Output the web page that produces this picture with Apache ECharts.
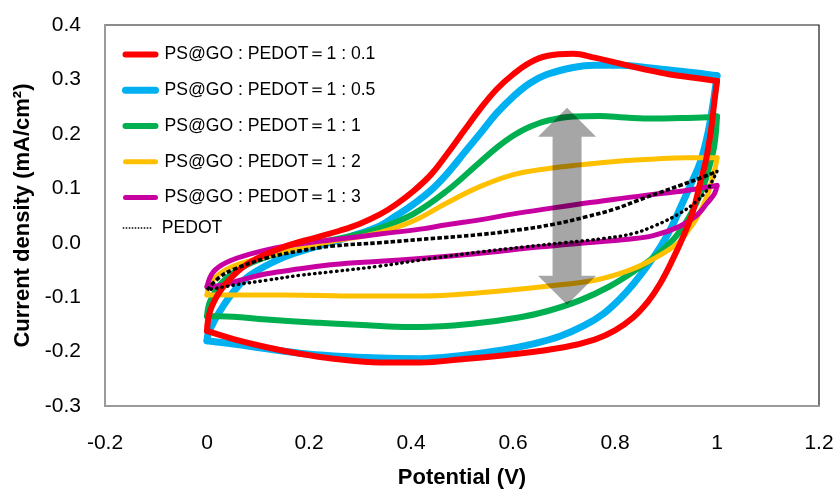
<!DOCTYPE html>
<html>
<head>
<meta charset="utf-8">
<script src="https://cdn.jsdelivr.net/npm/echarts@6/dist/echarts.min.js"></script>
<style>
html,body{margin:0;padding:0;background:#fff;}
#chart{width:837px;height:494px;}
</style>
</head>
<body>
<div id="chart"></div>
<script>
// ---- data (Potential V, Current density mA/cm2) ----
const SERIES_NAMES = [
  'PS@GO : PEDOT＝1 : 0.1',
  'PS@GO : PEDOT＝1 : 0.5',
  'PS@GO : PEDOT＝1 : 1',
  'PS@GO : PEDOT＝1 : 2',
  'PS@GO : PEDOT＝1 : 3',
  'PEDOT'
];
const X_TICKS = [-0.2, 0, 0.2, 0.4, 0.6, 0.8, 1, 1.2];
const Y_TICKS = [-0.3, -0.2, -0.1, 0.0, 0.1, 0.2, 0.3, 0.4];

// 1 : 0.1 (red)
const red_fwd = [[0,-0.162],[0.006,-0.126],[0.025,-0.090],[0.052,-0.060],[0.084,-0.036],[0.15,-0.008],[0.215,0.010],[0.26,0.022],[0.3,0.035],[0.339,0.052],[0.37,0.07],[0.405,0.095],[0.44,0.126],[0.47,0.162],[0.505,0.207],[0.535,0.245],[0.568,0.282],[0.601,0.31],[0.633,0.331],[0.666,0.343],[0.718,0.347],[0.76,0.34],[0.81,0.329],[0.86,0.318],[0.908,0.309],[0.955,0.303],[1.0,0.297]];
const red_rev = [[1.0,0.297],[0.995,0.26],[0.988,0.205],[0.978,0.15],[0.967,0.11],[0.953,0.058],[0.935,0.014],[0.912,-0.033],[0.888,-0.076],[0.865,-0.108],[0.835,-0.138],[0.8,-0.161],[0.76,-0.178],[0.7,-0.192],[0.6,-0.205],[0.5,-0.214],[0.418,-0.22],[0.339,-0.22],[0.248,-0.213],[0.182,-0.204],[0.117,-0.192],[0.052,-0.177],[0,-0.162]];
// 1 : 0.5 (blue)
const blue_fwd = [[0,-0.18],[0.003,-0.165],[0.012,-0.148],[0.025,-0.126],[0.052,-0.09],[0.084,-0.06],[0.15,-0.027],[0.215,-0.007],[0.28,0.011],[0.339,0.031],[0.37,0.049],[0.405,0.071],[0.44,0.097],[0.47,0.126],[0.505,0.166],[0.535,0.2],[0.568,0.238],[0.601,0.269],[0.633,0.293],[0.666,0.309],[0.718,0.322],[0.76,0.326],[0.81,0.326],[0.86,0.322],[0.91,0.317],[0.96,0.312],[1.0,0.307]];
const blue_rev = [[1.0,0.307],[0.993,0.26],[0.983,0.205],[0.968,0.15],[0.95,0.11],[0.93,0.068],[0.91,0.027],[0.89,-0.006],[0.864,-0.042],[0.836,-0.076],[0.81,-0.103],[0.778,-0.13],[0.74,-0.152],[0.692,-0.172],[0.64,-0.186],[0.58,-0.197],[0.5,-0.207],[0.418,-0.213],[0.339,-0.212],[0.248,-0.208],[0.182,-0.203],[0.117,-0.195],[0.052,-0.186],[0,-0.18]];
// 1 : 1 (green)
const green_fwd = [[0,-0.135],[0.006,-0.108],[0.025,-0.078],[0.052,-0.055],[0.084,-0.038],[0.15,-0.016],[0.215,-0.001],[0.28,0.012],[0.339,0.027],[0.405,0.053],[0.47,0.095],[0.535,0.148],[0.57,0.176],[0.601,0.197],[0.633,0.213],[0.666,0.224],[0.718,0.232],[0.77,0.233],[0.82,0.23],[0.875,0.228],[0.93,0.229],[0.97,0.23],[1.0,0.232]];
const green_rev = [[1.0,0.232],[0.995,0.18],[0.985,0.14],[0.972,0.10],[0.95,0.055],[0.92,0.012],[0.885,-0.02],[0.843,-0.049],[0.79,-0.08],[0.731,-0.106],[0.67,-0.125],[0.614,-0.137],[0.52,-0.149],[0.418,-0.155],[0.339,-0.153],[0.215,-0.147],[0.117,-0.141],[0.025,-0.135],[0,-0.135]];
// 1 : 2 (yellow)
const yellow_fwd = [[0,-0.096],[0.006,-0.075],[0.025,-0.057],[0.052,-0.043],[0.117,-0.025],[0.182,-0.01],[0.248,0.003],[0.3,0.011],[0.339,0.019],[0.38,0.031],[0.418,0.046],[0.47,0.073],[0.535,0.103],[0.601,0.125],[0.666,0.136],[0.731,0.143],[0.81,0.15],[0.88,0.154],[0.94,0.156],[1.0,0.156]];
const yellow_rev = [[1.0,0.156],[0.997,0.14],[0.99,0.115],[0.98,0.084],[0.96,0.045],[0.94,0.018],[0.925,0.0],[0.875,-0.03],[0.83,-0.05],[0.765,-0.068],[0.667,-0.08],[0.535,-0.092],[0.418,-0.098],[0.3,-0.098],[0.15,-0.096],[0.05,-0.096],[0,-0.096]];
// 1 : 3 (magenta)
const magenta_fwd = [[0,-0.081],[0.012,-0.054],[0.039,-0.036],[0.084,-0.021],[0.15,-0.007],[0.215,0.002],[0.28,0.009],[0.339,0.016],[0.418,0.025],[0.47,0.033],[0.535,0.042],[0.601,0.053],[0.679,0.064],[0.731,0.071],[0.8,0.08],[0.87,0.088],[0.94,0.096],[1.0,0.105]];
const magenta_rev = [[1.0,0.105],[0.995,0.09],[0.98,0.072],[0.96,0.05],[0.927,0.03],[0.875,0.013],[0.82,0.006],[0.745,0.0],[0.65,-0.008],[0.55,-0.018],[0.483,-0.024],[0.418,-0.029],[0.339,-0.034],[0.248,-0.04],[0.182,-0.048],[0.117,-0.057],[0.065,-0.069],[0.03,-0.078],[0,-0.081]];
// PEDOT (black dotted)
const pedot_fwd = [[0,-0.087],[0.025,-0.063],[0.052,-0.049],[0.117,-0.028],[0.182,-0.015],[0.248,-0.006],[0.339,0.0],[0.418,0.006],[0.535,0.015],[0.614,0.024],[0.68,0.034],[0.745,0.048],[0.8,0.062],[0.843,0.077],[0.89,0.093],[0.927,0.105],[0.965,0.118],[1.0,0.131]];
const pedot_rev = [[1.0,0.131],[0.99,0.112],[0.98,0.096],[0.96,0.076],[0.927,0.054],[0.88,0.032],[0.836,0.017],[0.78,0.008],[0.7,0.0],[0.62,-0.008],[0.535,-0.017],[0.418,-0.032],[0.339,-0.043],[0.248,-0.053],[0.182,-0.06],[0.117,-0.069],[0.052,-0.078],[0,-0.087]];

// annotation arrow (data units): x, top tip, bottom tip
const ARROW = [[0.706, 0.248, -0.114]];

// ---- chart ----
const FONT = 'Liberation Sans';
const COLORS = ['#FF0000', '#00B0F0', '#00B050', '#FFC000', '#C800A1', '#000000'];
const WIDTHS = [6, 7, 6, 5, 5, 2.5];

function lineSeries(idx, data, extraStyle) {
  return {
    name: SERIES_NAMES[idx],
    type: 'line',
    data: data,
    smooth: 0.4,
    symbol: 'none',
    showSymbol: false,
    silent: true,
    animation: false,
    clip: false,
    lineStyle: Object.assign({
      color: COLORS[idx], width: WIDTHS[idx], cap: 'round', join: 'round'
    }, extraStyle || {}),
    itemStyle: { color: COLORS[idx] },
    z: 3
  };
}

const series = [
  lineSeries(1, blue_fwd), lineSeries(1, blue_rev),
  lineSeries(2, green_fwd), lineSeries(2, green_rev),
  lineSeries(3, yellow_fwd), lineSeries(3, yellow_rev),
  lineSeries(4, magenta_fwd), lineSeries(4, magenta_rev),
  lineSeries(0, red_fwd), lineSeries(0, red_rev),
  lineSeries(5, pedot_fwd, { type: [4.5, 2.2], width: 3.6, cap: 'butt' }),
  lineSeries(5, pedot_rev, { type: [0.5, 5], width: 3.4, cap: 'round' }),
  {
    type: 'custom',
    silent: true,
    animation: false,
    z: 5,
    data: ARROW,
    encode: { x: 0, y: [1, 2] },
    renderItem: function (params, api) {
      const top = api.coord([api.value(0), api.value(1)]);
      const bot = api.coord([api.value(0), api.value(2)]);
      const cx = top[0], sw = 14.5, hw = 29, hl = 29;
      const pts = [
        [cx, top[1]], [cx + hw, top[1] + hl], [cx + sw, top[1] + hl],
        [cx + sw, bot[1] - hl], [cx + hw, bot[1] - hl], [cx, bot[1]],
        [cx - hw, bot[1] - hl], [cx - sw, bot[1] - hl],
        [cx - sw, top[1] + hl], [cx - hw, top[1] + hl]
      ];
      return { type: 'polygon', shape: { points: pts }, style: { fill: 'rgba(0,0,0,0.35)' } };
    }
  }
];

const legendText = { fontFamily: FONT, fontSize: 17.6, color: '#000', lineHeight: 20, padding: [0, 0, 0, 4] };
const hiddenSymbol = { color: 'rgba(0,0,0,0)', borderWidth: 0, opacity: 0 };

const chart = echarts.init(document.getElementById('chart'), null, { renderer: 'canvas' });
chart.setOption({
  backgroundColor: '#ffffff',
  animation: false,
  textStyle: { fontFamily: FONT },
  grid: {
    left: 105, right: 18, top: 25, bottom: 81,
    show: true, borderColor: '#1a1a1a', borderWidth: 1.2, backgroundColor: 'transparent'
  },
  legend: [
    {
      data: SERIES_NAMES.slice(0, 5),
      orient: 'vertical',
      left: 117, top: 39.5,
      itemWidth: 30, itemHeight: 14, itemGap: 15.75,
      lineStyle: { width: 'inherit' },
      itemStyle: hiddenSymbol,
      selectedMode: false,
      textStyle: legendText
    },
    {
      data: ['PEDOT'],
      orient: 'vertical',
      left: 117, top: 213,
      itemWidth: 30, itemHeight: 14,
      lineStyle: { width: 1.5, type: [1.5, 1.5], cap: 'butt' },
      itemStyle: hiddenSymbol,
      selectedMode: false,
      textStyle: legendText
    }
  ],
  xAxis: {
    type: 'value',
    min: X_TICKS[0], max: X_TICKS[X_TICKS.length - 1], interval: 0.2,
    name: 'Potential (V)',
    nameLocation: 'middle', nameGap: 61,
    nameTextStyle: { fontFamily: FONT, fontSize: 22, fontWeight: 'bold', color: '#000' },
    axisLine: { show: true, onZero: false, lineStyle: { color: '#9a9a9a', width: 2 } },
    axisTick: { show: false },
    splitLine: { show: false },
    axisLabel: {
      margin: 27, fontFamily: FONT, fontSize: 21, color: '#000',
      formatter: function (v) { const r = Math.round(v * 10) / 10; return String(Math.abs(r) < 1e-9 ? 0 : r); }
    }
  },
  yAxis: {
    type: 'value',
    min: Y_TICKS[0], max: Y_TICKS[Y_TICKS.length - 1], interval: 0.1,
    name: 'Current density (mA/cm²)',
    nameLocation: 'middle', nameGap: 58, nameRotate: 90,
    nameTextStyle: { fontFamily: FONT, fontSize: 22, fontWeight: 'bold', color: '#000' },
    axisLine: { show: true, onZero: false, lineStyle: { color: '#9a9a9a', width: 2 } },
    axisTick: { show: false },
    splitLine: { show: false },
    axisLabel: {
      margin: 24, fontFamily: FONT, fontSize: 21, color: '#000',
      formatter: function (v) { const r = Math.round(v * 10) / 10; return (Math.abs(r) < 1e-9 ? 0 : r).toFixed(1); }
    }
  },
  series: series
});
</script>
</body>
</html>
